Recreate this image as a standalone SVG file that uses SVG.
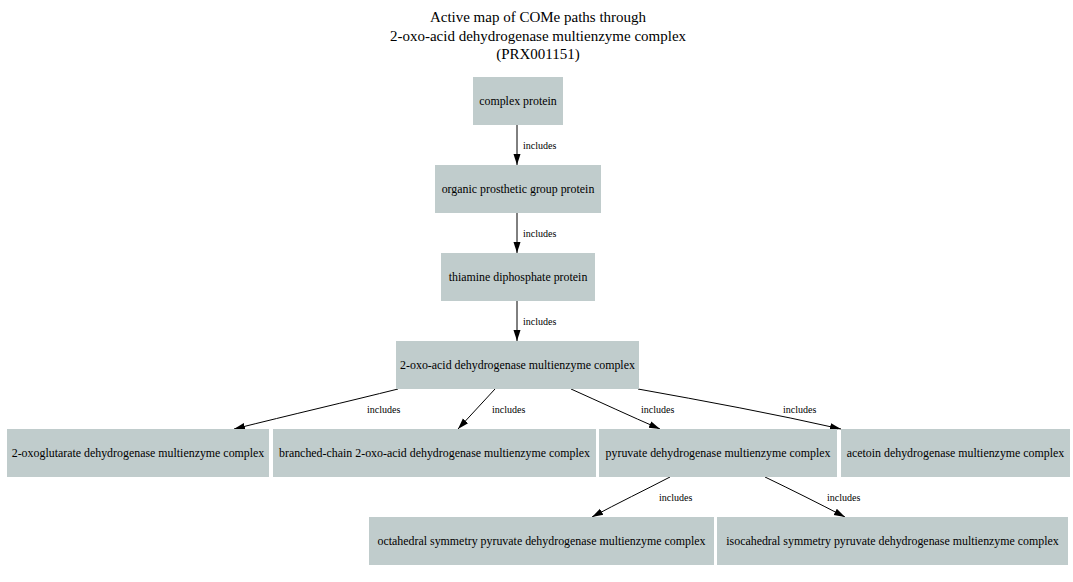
<svg xmlns="http://www.w3.org/2000/svg" width="1073" height="582" viewBox="0 0 1073 582">
<style>
.n rect{fill:#c0cccc;stroke:none}
.n text{font-family:"Liberation Serif",serif;font-size:11.9px;text-anchor:middle;fill:#000}
.t{font-family:"Liberation Serif",serif;font-size:15px;text-anchor:middle;fill:#000}
.e path{fill:none;stroke:#000;stroke-width:1;marker-end:url(#a)}
.e text{font-family:"Liberation Serif",serif;font-size:10px;fill:#000}
</style>
<defs>
<marker id="a" markerUnits="userSpaceOnUse" markerWidth="12" markerHeight="10" viewBox="0 0 12 10" refX="11" refY="5" orient="auto">
<path d="M0,1.5 L11,5 L0,8.5 Z" fill="#000"/>
</marker>
</defs>
<rect width="1073" height="582" fill="#fff"/>
<g id="title">
<text class="t" x="538" y="22">Active map of COMe paths through</text>
<text class="t" x="538" y="41">2-oxo-acid dehydrogenase multienzyme complex</text>
<text class="t" x="538" y="59">(PRX001151)</text>
</g>
<g id="edges" class="e">
<path d="M517,125 L517,165"/><text x="523" y="149">includes</text>
<path d="M517,213 L517,253"/><text x="523" y="237">includes</text>
<path d="M517,301 L517,341"/><text x="523" y="325">includes</text>
<path d="M398,389 C350,401 290,415 234,429"/><text x="367" y="413">includes</text>
<path d="M495,389 C483,402 470,416 458,429"/><text x="492" y="413">includes</text>
<path d="M571,389 C600,402 630,416 660,429"/><text x="641" y="413">includes</text>
<path d="M638,389 C705,401 775,414 841,429"/><text x="783" y="413">includes</text>
<path d="M670,477 C645,490 618,503 592,517"/><text x="659" y="501">includes</text>
<path d="M765,477 C792,490 818,503 845,517"/><text x="827" y="501">includes</text>
</g>
<g id="n1" class="n"><rect x="473" y="77" width="90" height="48"/><text x="518" y="105">complex protein</text></g>
<g id="n2" class="n"><rect x="435" y="165" width="166" height="48"/><text x="518" y="193">organic prosthetic group protein</text></g>
<g id="n3" class="n"><rect x="441" y="253" width="154" height="48"/><text x="518" y="281">thiamine diphosphate protein</text></g>
<g id="n4" class="n"><rect x="396" y="341" width="243" height="48"/><text x="517.5" y="369">2-oxo-acid dehydrogenase multienzyme complex</text></g>
<g id="n5" class="n"><rect x="7" y="429" width="262" height="48"/><text x="138" y="457">2-oxoglutarate dehydrogenase multienzyme complex</text></g>
<g id="n6" class="n"><rect x="273" y="429" width="323" height="48"/><text x="434.5" y="457">branched-chain 2-oxo-acid dehydrogenase multienzyme complex</text></g>
<g id="n7" class="n"><rect x="599" y="429" width="238" height="48"/><text x="718" y="457">pyruvate dehydrogenase multienzyme complex</text></g>
<g id="n8" class="n"><rect x="841" y="429" width="229" height="48"/><text x="955.5" y="457">acetoin dehydrogenase multienzyme complex</text></g>
<g id="n9" class="n"><rect x="369" y="517" width="345" height="48"/><text x="541.5" y="545">octahedral symmetry pyruvate dehydrogenase multienzyme complex</text></g>
<g id="n10" class="n"><rect x="717" y="517" width="351" height="48"/><text x="892.5" y="545">isocahedral symmetry pyruvate dehydrogenase multienzyme complex</text></g>
</svg>
